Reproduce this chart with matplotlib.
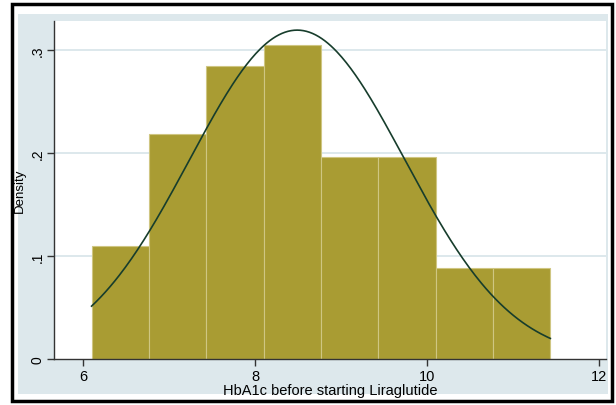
import numpy as np
import matplotlib.pyplot as plt
from matplotlib.patches import Rectangle

# histogram bins (HbA1c) and densities
bin_edges = [6.1, 6.767, 7.433, 8.1, 8.767, 9.433, 10.1, 10.767, 11.433]
densities = [0.110, 0.218, 0.284, 0.305, 0.196, 0.196, 0.088, 0.088]

# fitted normal overlay
norm_mean = 8.49
norm_sd = 1.25

ytick_vals = [0, 0.1, 0.2, 0.3]
ytick_labels = ['0', '.1', '.2', '.3']
xtick_vals = [6, 8, 10, 12]

plt.rcParams['font.family'] = ['Liberation Sans', 'DejaVu Sans']

fig = plt.figure(figsize=(6.16, 4.06), dpi=100)
fig.patch.set_facecolor('white')

# outer black frame and stata-like blue background
fig.patches.append(Rectangle((12/616, 4/406), 600/616, 397/406, transform=fig.transFigure,
                             facecolor='white', edgecolor='black', linewidth=2.5, zorder=-2))
fig.patches.append(Rectangle((18/616, 11/406), 590/616, 380/406, transform=fig.transFigure,
                             facecolor='#dde8ec', edgecolor='none', zorder=-1))

ax = fig.add_axes([54/616, 46/406, 552/616, 338/406])
ax.set_zorder(1)
ax.set_facecolor('white')

widths = np.diff(bin_edges)
ax.bar(bin_edges[:-1], densities, width=widths, align='edge',
       color='#a99c33', edgecolor='#cfc682', linewidth=0.8, zorder=2)

xs = np.linspace(bin_edges[0], bin_edges[-1], 300)
pdf = np.exp(-(xs - norm_mean) ** 2 / (2 * norm_sd ** 2)) / (norm_sd * np.sqrt(2 * np.pi))
ax.plot(xs, pdf, color='#173d2c', linewidth=1.2, zorder=3)

ax.set_xlim(5.663, 12.08)
ax.set_ylim(0, 0.328)

ax.set_yticks(ytick_vals)
ax.set_yticklabels(ytick_labels, rotation=90, va='center', fontsize=10)
ax.set_xticks(xtick_vals)
ax.set_xticklabels([str(v) for v in xtick_vals], fontsize=10.5)

for v in ytick_vals[1:]:
    ax.axhline(v, color='#dde8ec', linewidth=1.4, zorder=1)

ax.spines['top'].set_visible(False)
ax.spines['right'].set_visible(False)
for s in ['left', 'bottom']:
    ax.spines[s].set_color('#333333')
    ax.spines[s].set_linewidth(1.0)
ax.tick_params(length=5, width=1, color='#333333', pad=2)

ax.set_xlabel('HbA1c before starting Liraglutide', fontsize=10.5, labelpad=0)
ax.set_ylabel('Density', fontsize=9.5, labelpad=3)

fig.savefig('out.png', dpi=100)
